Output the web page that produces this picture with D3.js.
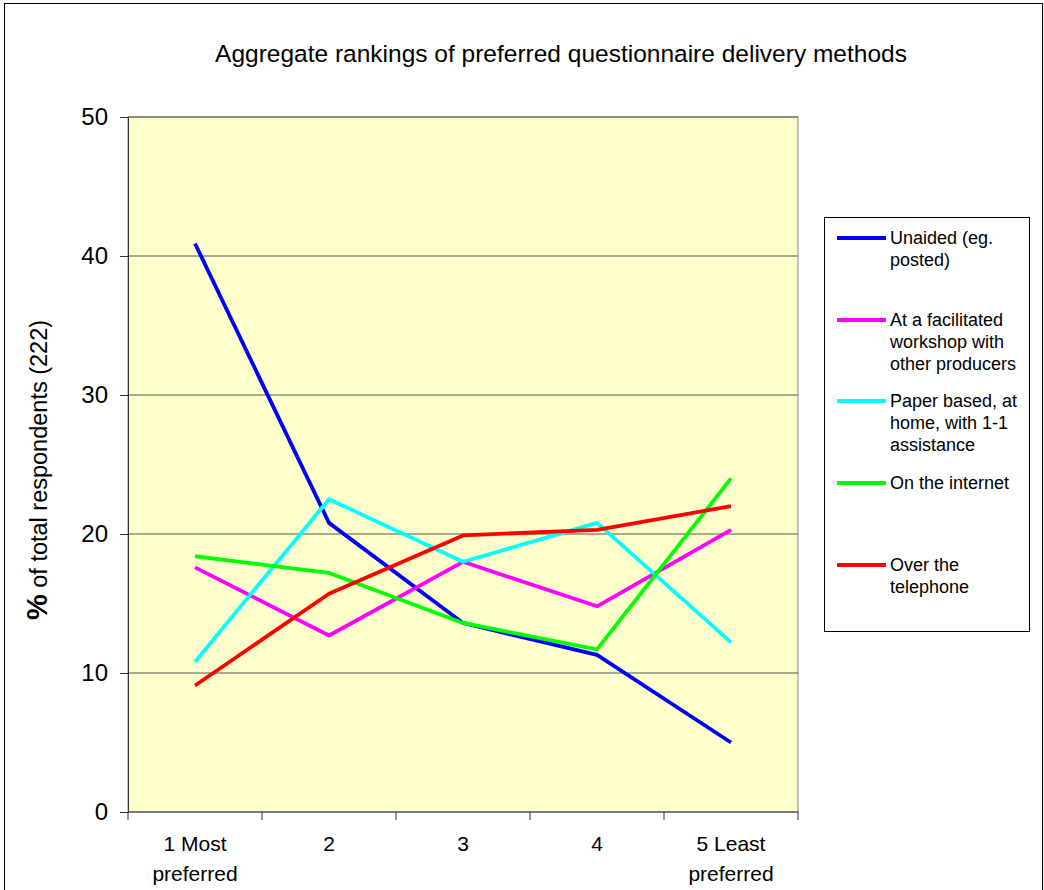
<!DOCTYPE html>
<html><head><meta charset="utf-8">
<script src="https://cdn.jsdelivr.net/npm/d3@7"></script>
<style>body{margin:0;background:#fff}svg{display:block;font-family:"Liberation Sans",Arial,sans-serif}</style>
</head><body>
<script>
const categories = [["1 Most","preferred"],["2"],["3"],["4"],["5 Least","preferred"]];
const seriesNames = [["Unaided (eg.","posted)"],["At a facilitated","workshop with","other producers"],["Paper based, at","home, with 1-1","assistance"],["On the internet"],["Over the","telephone"]];
const seriesColors = ["#0000FF","#FF00FF","#00FFFF","#00FF00","#FF0000"];
const unaided = [40.9, 20.8, 13.6, 11.3, 5.0];
const workshop = [17.6, 12.7, 18.0, 14.8, 20.3];
const paper = [10.8, 22.5, 18.0, 20.8, 12.2];
const internet = [18.4, 17.2, 13.6, 11.7, 24.0];
const telephone = [9.1, 15.7, 19.9, 20.3, 22.0];
const yTicks = [0,10,20,30,40,50];
const series = [unaided, workshop, paper, internet, telephone];

const W=1044,H=890;
const svg=d3.select("body").append("svg").attr("width",W).attr("height",H);
svg.append("rect").attr("x",4.5).attr("y",3.5).attr("width",1038).attr("height",H).attr("fill","#fff").attr("stroke","#000").attr("stroke-width",1);

const L=128,R=798,T=117,B=812;
const x=d3.scaleBand().domain(d3.range(categories.length)).range([L,R]);
const y=d3.scaleLinear().domain([0,50]).range([B,T]);

svg.append("rect").attr("x",L).attr("y",T).attr("width",R-L).attr("height",B-T).attr("fill","#FFFFCC").attr("stroke","#888").attr("stroke-width",1);

svg.append("g").selectAll("line").data(yTicks.filter(d=>d>0)).join("line")
  .attr("x1",L).attr("x2",R).attr("y1",d=>y(d)).attr("y2",d=>y(d)).attr("stroke","#555").attr("stroke-width",1);

const ya=svg.append("g").attr("transform",`translate(${L},0)`).call(d3.axisLeft(y).tickValues(yTicks).tickSize(8).tickPadding(12));
ya.selectAll("text").attr("font-size",24).attr("fill","#000").attr("font-family","Liberation Sans, Arial, sans-serif");
ya.select(".domain").attr("stroke","#333");
ya.selectAll(".tick line").attr("stroke","#333");

// x axis line and ticks at band boundaries
const xb=svg.append("g");
xb.append("line").attr("x1",L).attr("x2",R).attr("y1",B).attr("y2",B).attr("stroke","#333");
const bounds=d3.range(categories.length+1).map(i=>i<categories.length?x(i):x(categories.length-1)+x.bandwidth());
xb.selectAll("line.t").data(bounds).join("line").attr("class","t").attr("x1",d=>d).attr("x2",d=>d).attr("y1",B).attr("y2",B+8).attr("stroke","#333");
const xl=xb.selectAll("text").data(categories).join("text")
  .attr("x",(d,i)=>x(i)+x.bandwidth()/2).attr("y",851).attr("text-anchor","middle").attr("font-size",21);
xl.each(function(d){const t=d3.select(this);d.forEach((s,j)=>t.append("tspan").attr("x",t.attr("x")).attr("dy",j?30:0).text(s));});

const line=d3.line().x((d,i)=>x(i)+x.bandwidth()/2).y(d=>y(d));
svg.append("g").selectAll("path").data(series).join("path")
  .attr("d",line).attr("fill","none").attr("stroke",(d,i)=>seriesColors[i]).attr("stroke-width",3.8).attr("stroke-linejoin","round");

svg.append("text").attr("x",561).attr("y",62).attr("text-anchor","middle").attr("font-size",24.5).text("Aggregate rankings of preferred questionnaire delivery methods");

const yl=svg.append("text").attr("transform","translate(47,470) rotate(-90)").attr("text-anchor","middle").attr("font-size",23.5);
yl.append("tspan").attr("font-weight","bold").attr("font-size",29).text("%");
yl.append("tspan").text(" of total respondents (222)");

// legend
const lg=svg.append("g");
lg.append("rect").attr("x",824.5).attr("y",217.5).attr("width",205).attr("height",414).attr("fill","#fff").attr("stroke","#000");
const ly=[238,320,401,483,565];
seriesNames.forEach((nm,i)=>{
  lg.append("line").attr("x1",837).attr("x2",886).attr("y1",ly[i]).attr("y2",ly[i]).attr("stroke",seriesColors[i]).attr("stroke-width",3.8);
  const t=lg.append("text").attr("x",890).attr("y",ly[i]+6).attr("font-size",18);
  nm.forEach((s,j)=>t.append("tspan").attr("x",890).attr("dy",j?22:0).text(s));
});
</script>
</body></html>
